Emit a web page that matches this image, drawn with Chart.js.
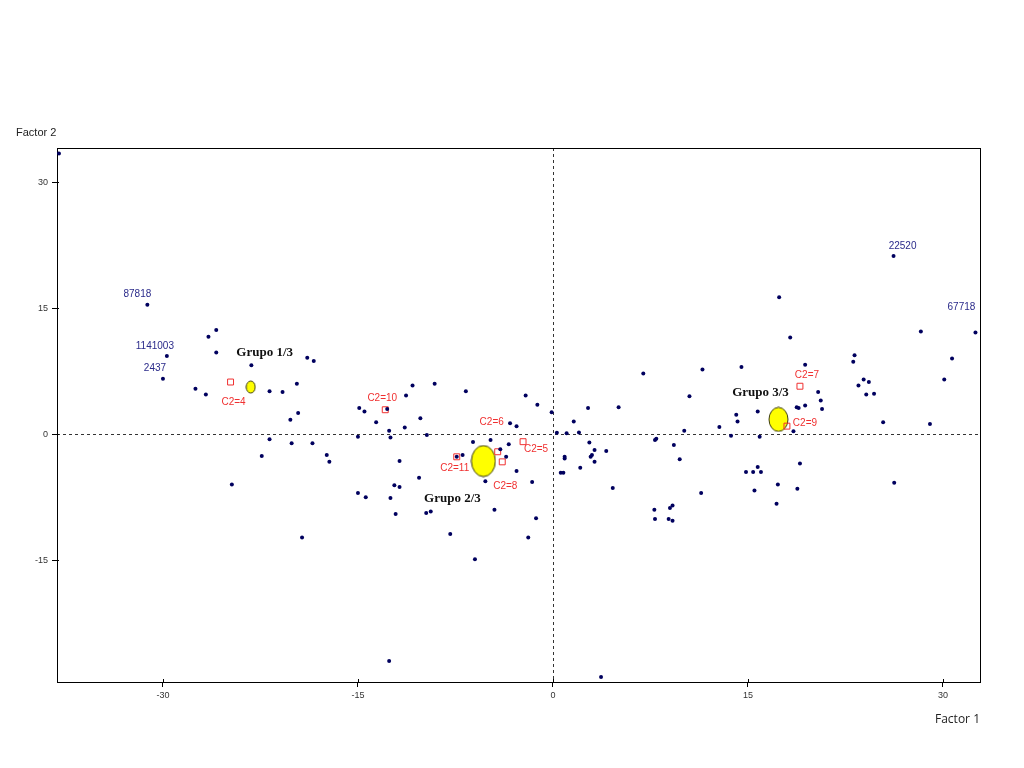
<!DOCTYPE html>
<html>
<head>
<meta charset="utf-8">
<script src="https://cdn.jsdelivr.net/npm/chart.js@4/dist/chart.umd.min.js"></script>
<style>
  body { margin: 0; background: #fff; }
  canvas { display: block; }
</style>
</head>
<body>
<canvas id="chart" width="1024" height="768"></canvas>
<script>
// individuals (Factor 1, Factor 2)
const pointsX = [
  -38.0, -25.9, -26.5, -25.9, -23.2, -18.9, -18.4, -27.5, -26.7, -21.8,
  -20.8, -19.7, -19.6, -20.2, -21.8, -20.1, -18.5, -22.4, -24.7, -17.4,
  -17.2, -19.3, -14.9, -14.5, -13.6, -15.0, -15.0, -14.4, -12.75, -10.8,
  -9.1, -11.3, -6.7, -2.1, -1.2, -0.1, -10.2, -11.4, -12.6, -12.5,
  -9.7, -11.8, -10.3, -12.2, -11.8, -12.5, -12.1, -9.75, -9.4, -7.9,
  -6.0, -1.9, -1.3, -1.6, -2.8, -3.6, -3.4, -4.05, -4.8, -6.15,
  -3.3, -2.8, 0.3, -5.2, -4.5, -6.95, -12.6, 3.7, 1.05, 1.6,
  2.0, 2.7, 5.05, 2.8, 3.2, 3.0, 2.9, 3.2, 0.9, 0.9,
  0.6, 0.8, 2.1, 4.1, 4.6, 10.5, 10.1, 7.85, 7.95, 9.3,
  9.75, 11.4, 7.8, 7.85, 9.0, 9.2, 8.9, 9.2, 12.8, 13.7,
  14.1, 14.2, 6.95, 11.5, 14.5, 17.4, 18.25, 28.3, 30.7, 30.1,
  23.2, 23.1, 19.4, 23.9, 24.3, 23.5, 24.1, 24.7, 20.4, 20.6,
  20.7, 19.4, 18.75, 18.9, 15.75, 25.4, 29.0, 15.9, 19.0, 15.75,
  14.85, 15.4, 16.0, 17.3, 15.5, 18.8, 17.2, 26.25, -7.4, 18.5
];
const pointsY = [
  33.4, 12.4, 11.6, 9.7, 8.2, 9.1, 8.7, 5.4, 4.7, 5.1,
  5.0, 6.0, 2.5, 1.7, -0.6, -1.1, -1.1, -2.6, -6.0, -2.5,
  -3.3, -12.3, 3.1, 2.7, 1.4, -0.3, -7.0, -7.5, 3.0, 5.8,
  6.0, 4.6, 5.1, 4.6, 3.5, 2.6, 1.9, 0.8, 0.4, -0.4,
  -0.1, -3.2, -5.2, -6.1, -6.3, -7.6, -9.5, -9.4, -9.2, -11.9,
  -14.9, -12.3, -10.0, -5.7, -4.4, -2.7, -1.2, -1.8, -0.7, -0.95,
  1.3, 0.95, 0.15, -5.6, -9.0, -2.5, -27.0, -28.9, 0.1, 1.5,
  0.2, 3.1, 3.2, -1.0, -1.9, -2.5, -2.7, -3.3, -2.7, -2.9,
  -4.6, -4.6, -4.0, -2.0, -6.4, 4.5, 0.4, -0.7, -0.55, -1.3,
  -3.0, -7.0, -9.0, -10.1, -8.8, -8.5, -10.1, -10.3, 0.85, -0.2,
  2.3, 1.5, 7.2, 7.7, 8.0, 16.3, 11.5, 12.2, 9.0, 6.5,
  9.4, 8.6, 8.25, 6.5, 6.2, 5.8, 4.7, 4.8, 5.0, 4.0,
  3.0, 3.4, 3.2, 3.1, 2.7, 1.4, 1.2, -0.3, -3.5, -3.9,
  -4.5, -4.5, -4.5, -6.0, -6.7, -6.5, -8.3, -5.8, -2.7, 0.35
];

// labelled individuals
const namedIds = ['87818', '1141003', '2437', '22520', '67718'];
const namedX = [-31.2, -29.7, -30.0, 26.2, 32.5];
const namedY = [15.4, 9.3, 6.6, 21.2, 12.1];

// C2 category points
const classLabels = ['C2=4', 'C2=10', 'C2=6', 'C2=5', 'C2=11', 'C2=8', 'C2=7', 'C2=9'];
const classX = [-24.8, -12.9, -4.25, -2.3, -7.4, -3.9, 19.0, 18.0];
const classY = [6.2, 2.9, -2.1, -0.9, -2.7, -3.3, 5.7, 0.95];

// cluster centres
const groupNames = ['Grupo 1/3', 'Grupo 2/3', 'Grupo 3/3'];
const groupX = [-23.25, -5.35, 17.35];
const groupY = [5.6, -3.2, 1.75];

const xTicks = [-30, -15, 0, 15, 30];
const yTicks = [-15, 0, 15, 30];

// ---- styling ----
const navy = '#00005e';
const red = '#f03030';
const blueText = '#2a2a8a';
const tickFont = { family: "'Liberation Sans Narrow', 'Liberation Sans', Arial, sans-serif", size: 9 };

// label offsets in pixels from their point
const namedOffsets = [[-10, -10], [-12, -10], [-8, -10], [9, -10], [-14, -25]];
const classOffsets = [[3, 20], [-3, -11], [-6, -30], [13, 8], [-2, 11], [3, 24], [7, -11], [18, -3]];
const groupOffsets = [[14, -34], [-31, 38], [-18, -27]];
const groupShape = [[9, 12], [24, 31], [19, 24]];

function ellipse(w, h) {
  const c = document.createElement('canvas');
  c.width = w + 2; c.height = h + 2;
  const g = c.getContext('2d');
  g.beginPath();
  g.ellipse(c.width / 2, c.height / 2, w / 2, h / 2, 0, 0, Math.PI * 2);
  g.fillStyle = '#ffff00';
  g.fill();
  g.lineWidth = 1;
  g.strokeStyle = '#3a3a10';
  g.stroke();
  return c;
}

const toXY = (xs, ys) => xs.map((v, i) => ({ x: v, y: ys[i] }));

const overlay = {
  id: 'overlay',
  beforeDatasetsDraw(chart) {
    const { ctx, chartArea: a, scales: { x, y } } = chart;
    const x0 = Math.round(x.getPixelForValue(0)) + 0.5;
    const y0 = Math.round(y.getPixelForValue(0)) + 0.5;
    ctx.save();
    ctx.strokeStyle = '#333';
    ctx.lineWidth = 1;
    ctx.setLineDash([3, 3]);
    ctx.beginPath();
    ctx.moveTo(x0, a.top); ctx.lineTo(x0, a.bottom);
    ctx.moveTo(a.left, y0); ctx.lineTo(a.right, y0);
    ctx.stroke();
    ctx.setLineDash([]);
    ctx.strokeStyle = '#000';
    ctx.strokeRect(Math.round(a.left) + 0.5, Math.round(a.top) + 0.5,
      Math.round(a.right - a.left), Math.round(a.bottom - a.top));
    // short inner part of the tick marks
    ctx.beginPath();
    xTicks.forEach(v => {
      const px = Math.round(x.getPixelForValue(v)) + 0.5;
      ctx.moveTo(px, a.bottom); ctx.lineTo(px, a.bottom - 3);
    });
    yTicks.forEach(v => {
      const py = Math.round(y.getPixelForValue(v)) + 0.5;
      ctx.moveTo(a.left, py); ctx.lineTo(a.left + 2, py);
    });
    ctx.stroke();
    ctx.restore();
  },
  afterDatasetsDraw(chart) {
    const { ctx, scales: { x, y } } = chart;
    ctx.save();
    ctx.textAlign = 'center';
    ctx.textBaseline = 'middle';

    ctx.font = "10px 'Liberation Sans Narrow', 'Liberation Sans', Arial, sans-serif";
    ctx.fillStyle = blueText;
    namedIds.forEach((t, i) => {
      ctx.fillText(t, x.getPixelForValue(namedX[i]) + namedOffsets[i][0],
        y.getPixelForValue(namedY[i]) + namedOffsets[i][1]);
    });

    ctx.fillStyle = red;
    classLabels.forEach((t, i) => {
      ctx.fillText(t, x.getPixelForValue(classX[i]) + classOffsets[i][0],
        y.getPixelForValue(classY[i]) + classOffsets[i][1]);
    });

    ctx.font = "bold 13px 'Liberation Serif', 'DejaVu Serif', serif";
    ctx.fillStyle = '#111';
    groupNames.forEach((t, i) => {
      ctx.fillText(t, x.getPixelForValue(groupX[i]) + groupOffsets[i][0],
        y.getPixelForValue(groupY[i]) + groupOffsets[i][1]);
    });

    // axis titles
    ctx.fillStyle = '#222';
    ctx.textAlign = 'left';
    ctx.font = "11px 'Liberation Sans Narrow', 'Liberation Sans', Arial, sans-serif";
    ctx.fillText('Factor 2', 16, 133);
    ctx.textAlign = 'right';
    ctx.font = "12px 'Open Sans', 'Liberation Sans', Arial, sans-serif";
    ctx.fillText('Factor 1', 980, 720);
    ctx.restore();
  }
};

const ctx = document.getElementById('chart').getContext('2d');
new Chart(ctx, {
  type: 'scatter',
  data: {
    datasets: [
      {
        label: 'individuos',
        data: toXY(pointsX.concat(namedX), pointsY.concat(namedY)),
        pointStyle: 'circle',
        pointRadius: 2,
        backgroundColor: navy,
        borderColor: navy,
        borderWidth: 0
      },
      {
        label: 'C2',
        data: toXY(classX, classY),
        pointStyle: 'rect',
        pointRadius: 4.2,
        backgroundColor: 'rgba(0,0,0,0)',
        borderColor: red,
        borderWidth: 1
      },
      {
        label: 'grupos',
        data: toXY(groupX, groupY),
        pointStyle: groupShape.map(s => ellipse(s[0], s[1])),
        pointRadius: 10
      }
    ]
  },
  options: {
    responsive: false,
    animation: false,
    events: [],
    layout: { autoPadding: false, padding: { left: 0, top: 148, right: 44, bottom: 56 } },
    plugins: { legend: { display: false }, tooltip: { enabled: false } },
    scales: {
      x: {
        type: 'linear',
        min: -38.15,
        max: 32.85,
        afterBuildTicks: s => { s.ticks = xTicks.map(v => ({ value: v })); },
        afterFit: s => { s.height = 30; },
        grid: { drawOnChartArea: false, tickLength: 5, tickColor: '#000' },
        border: { display: true, color: '#000' },
        ticks: { font: tickFont, color: '#333', padding: 3, maxRotation: 0 }
      },
      y: {
        type: 'linear',
        min: -29.5,
        max: 34.05,
        afterBuildTicks: s => { s.ticks = yTicks.map(v => ({ value: v })); },
        afterFit: s => { s.width = 57; },
        grid: { drawOnChartArea: false, tickLength: 5, tickColor: '#000' },
        border: { display: true, color: '#000' },
        ticks: { font: tickFont, color: '#333', padding: 4 }
      }
    }
  },
  plugins: [overlay]
});
</script>
</body>
</html>
